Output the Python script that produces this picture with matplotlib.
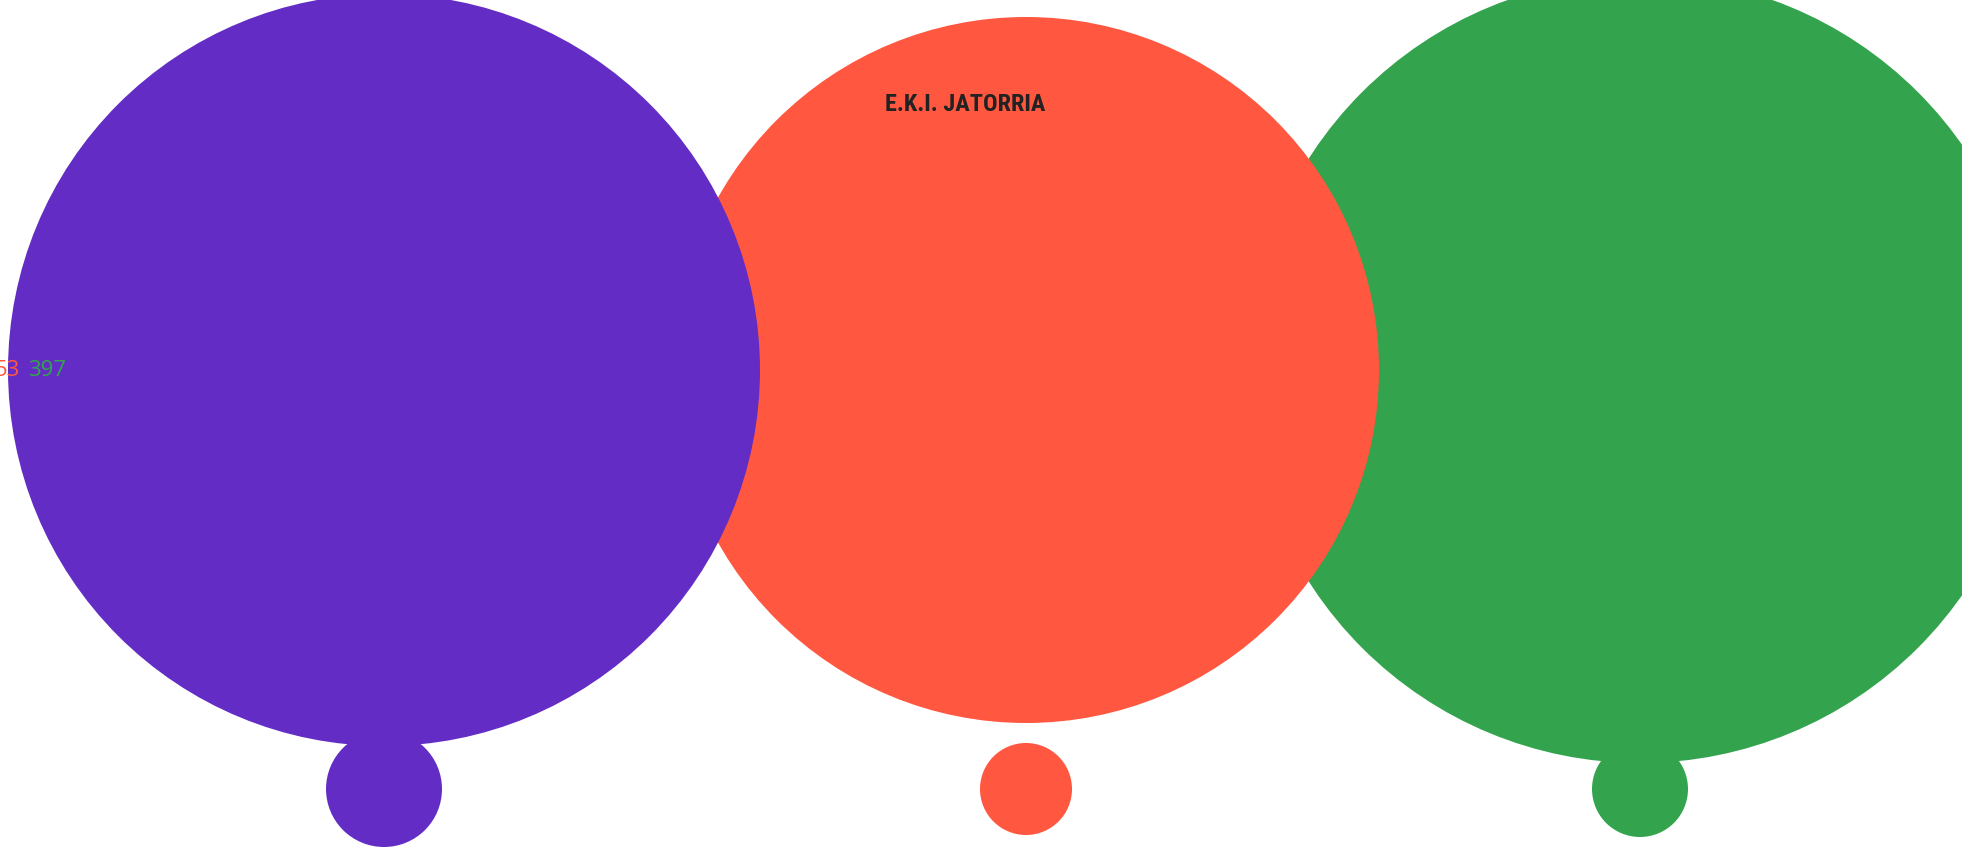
import matplotlib
matplotlib.use('Agg')
import matplotlib.pyplot as plt
from matplotlib.patches import Circle

# bubble data (sizes given as radius in pixels of the 1962x849 canvas)
groups = ['purple', 'orange', 'green']
colors = ['#632cc5', '#ff5740', '#33a44d']
big_radius = [376, 353, 393]
small_radius = [58, 46, 48]
value_labels = ['53', '397']
value_colors = ['#ff5740', '#33a44d']
title = 'E.K.I. JATORRIA'

# layout
centers_x = [384, 1026, 1640]
big_y = 370
small_y = 789
zorders = [3, 2, 1]

W, H = 1962, 849
fig = plt.figure(figsize=(W / 100, H / 100), dpi=100)
ax = fig.add_axes([0, 0, 1, 1])
ax.set_xlim(0, W)
ax.set_ylim(H, 0)
ax.axis('off')

for cx, rb, rs, c, z in zip(centers_x, big_radius, small_radius, colors, zorders):
    ax.add_patch(Circle((cx, big_y), rb, color=c, lw=0, zorder=z))
    ax.add_patch(Circle((cx, small_y), rs, color=c, lw=0, zorder=z))

ax.text(965, 104, title, ha='center', va='center', fontsize=17.5, fontweight='bold',
        fontstretch='condensed',
        family=['Roboto Condensed', 'DejaVu Sans Condensed', 'Roboto', 'DejaVu Sans'],
        color='#222222', zorder=10)

# the value labels sit at the left edge, partly cut off
ax.text(20, 370, value_labels[0], ha='right', va='center', fontsize=16,
        family=['Open Sans', 'DejaVu Sans'], color=value_colors[0], zorder=10)
ax.text(28, 370, value_labels[1], ha='left', va='center', fontsize=16,
        family=['Open Sans', 'DejaVu Sans'], color=value_colors[1], zorder=10)

fig.savefig('out.png', dpi=100)
